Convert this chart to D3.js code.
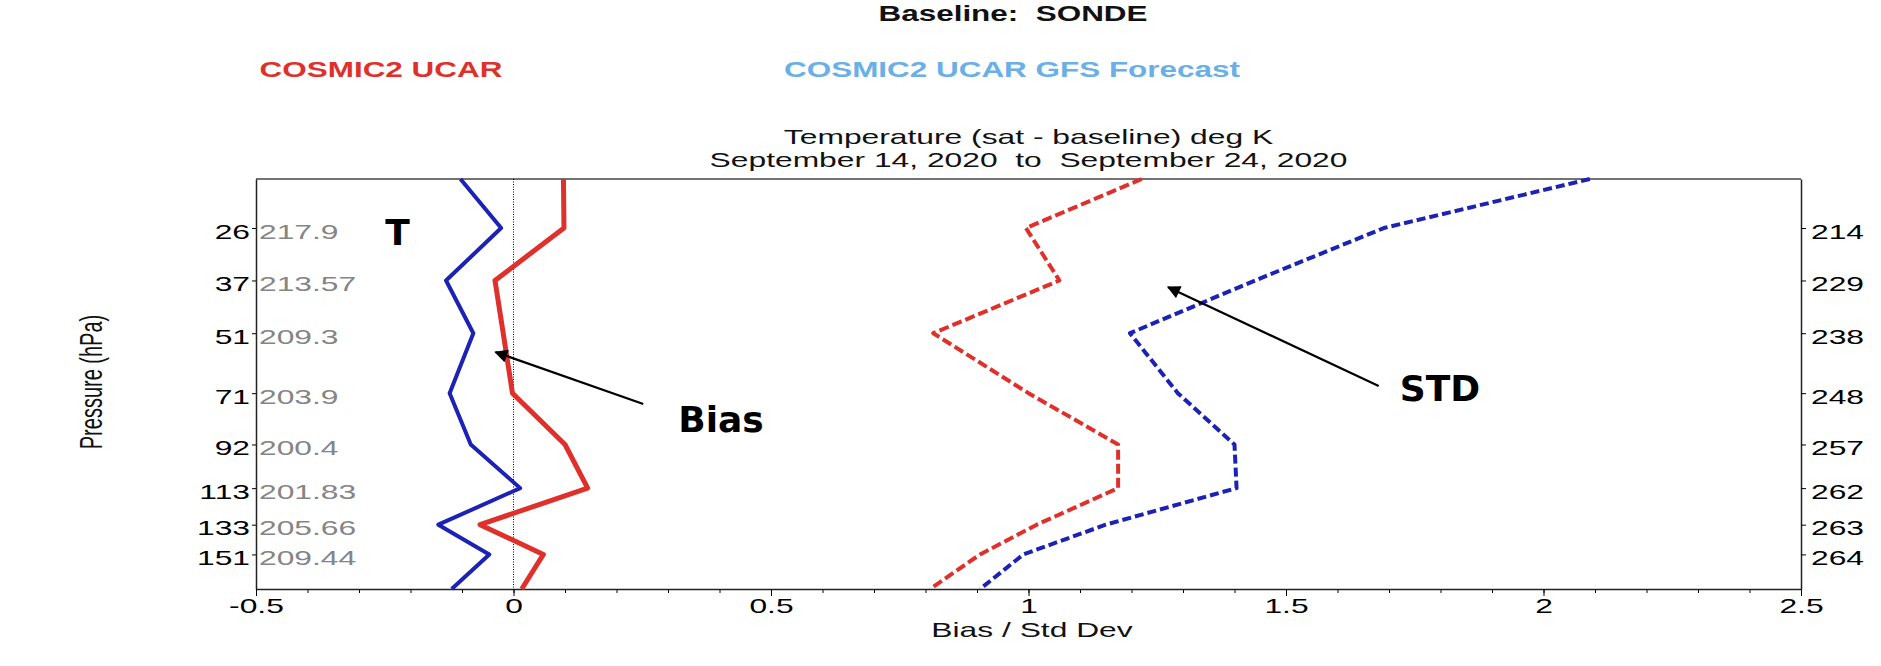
<!DOCTYPE html>
<html>
<head>
<meta charset="utf-8">
<script src="https://cdn.jsdelivr.net/npm/d3@7/dist/d3.min.js"></script>
<style>
    body { margin: 0; background: #fff; }
    text { white-space: pre; }
</style>
</head>
<body>
<div id="profile"></div>
<script>
// pressure levels (hPa); first and last are the edges of the plotted range
var levels = [18, 26, 37, 51, 71, 92, 113, 133, 151, 174];
var ucarBias = [0.097, 0.098, -0.036, -0.02, -0.002, 0.100, 0.144, -0.065, 0.058, 0.016];
var gfsBias = [-0.103, -0.024, -0.131, -0.078, -0.124, -0.083, 0.013, -0.146, -0.047, -0.12];
var ucarStd = [1.22, 0.995, 1.06, 0.815, 1.0, 1.174, 1.174, 1.016, 0.906, 0.809];
var gfsStd = [2.09, 1.69, 1.44, 1.197, 1.29, 1.40, 1.404, 1.15, 0.99, 0.906];

var pressureTicks = [26, 37, 51, 71, 92, 113, 133, 151];
var meanTemps = ["217.9", "213.57", "209.3", "203.9", "200.4", "201.83", "205.66", "209.44"];
var sampleCounts = [214, 229, 238, 248, 257, 262, 263, 264];
var xTicks = [-0.5, 0, 0.5, 1, 1.5, 2, 2.5];

function createProfile() {
    var w = 1881;
    var h = 666;
    var left = 256, right = 1801, top = 179, bottom = 589;
    // the original picture is stretched sideways, so its text is too
    var sx = 1.59;
    var font = "'Liberation Sans', Arial, sans-serif";

    var svg = d3.select("#profile")
        .append("svg")
        .attr("width", w)
        .attr("height", h)
        .style("font-family", font);

    var x = d3.scaleLinear().domain([-0.5, 2.5]).range([left, right]);
    var y = d3.scalePow().exponent(0.3).domain([18, 174]).range([top, bottom]);

    // headers
    function header(txt, cx, by, color) {
        svg.append("text")
            .attr("transform", "translate(" + cx + "," + by + ") scale(1.43,1)")
            .attr("text-anchor", "middle")
            .attr("font-size", 22)
            .attr("font-weight", "bold")
            .attr("fill", color)
            .text(txt);
    }
    header("Baseline:  SONDE", 1013, 21, "#111");
    header("COSMIC2 UCAR", 381, 77, "#e0302c");
    header("COSMIC2 UCAR GFS Forecast", 1012, 77, "#6aafe6");

    function stretched(txt, cx, by, size) {
        return svg.append("text")
            .attr("transform", "translate(" + cx + "," + by + ") scale(" + sx + ",1)")
            .attr("text-anchor", "middle")
            .attr("font-size", size)
            .attr("fill", "#111")
            .text(txt);
    }
    stretched("Temperature (sat - baseline) deg K", (left + right) / 2, 144, 20);
    stretched("September 14, 2020  to  September 24, 2020", (left + right) / 2, 167, 20);
    stretched("Bias / Std Dev", 1032, 637, 20);

    svg.append("text")
        .attr("transform", "translate(91,382) scale(" + sx + ",1) rotate(-90)")
        .attr("text-anchor", "middle")
        .attr("dy", "0.35em")
        .attr("font-size", 20)
        .attr("fill", "#111")
        .text("Pressure (hPa)");

    // frame top
    svg.append("line")
        .attr("x1", left).attr("x2", right)
        .attr("y1", top).attr("y2", top)
        .attr("stroke", "#444").attr("stroke-width", 1.3);

    // zero line
    svg.append("line")
        .attr("x1", x(0)).attr("x2", x(0))
        .attr("y1", top).attr("y2", bottom)
        .attr("stroke", "#000").attr("stroke-width", 1)
        .attr("stroke-dasharray", "1,1.5");

    // minor x ticks
    svg.append("g")
        .attr("transform", "translate(0," + bottom + ")")
        .call(d3.axisBottom(x).tickValues(d3.range(-5, 26).map(function(d) { return d / 10; }))
            .tickSize(4).tickFormat(""))
        .call(function(g) { g.select(".domain").remove(); });

    var xAxis = svg.append("g")
        .attr("transform", "translate(0," + bottom + ")")
        .call(d3.axisBottom(x).tickValues(xTicks).tickSize(7).tickSizeOuter(0)
            .tickFormat(function(d) { return String(d); }));
    xAxis.selectAll("text")
        .attr("transform", "scale(" + sx + ",1)")
        .attr("font-size", 20);

    var yAxis = svg.append("g")
        .attr("transform", "translate(" + left + ",0)")
        .call(d3.axisLeft(y).tickValues(pressureTicks).tickSize(4).tickSizeOuter(0)
            .tickFormat(d3.format("d")));
    yAxis.selectAll("text")
        .attr("x", -6 / sx)
        .attr("dy", "0.5em")
        .attr("transform", "scale(" + sx + ",1)")
        .attr("font-size", 20);

    var tempAxis = svg.append("g")
        .attr("transform", "translate(" + left + ",0)")
        .call(d3.axisRight(y).tickValues(pressureTicks).tickSize(0)
            .tickFormat(function(d, i) { return meanTemps[i]; }));
    tempAxis.select(".domain").remove();
    tempAxis.selectAll("text")
        .attr("x", 3 / sx)
        .attr("dy", "0.5em")
        .attr("transform", "scale(" + sx + ",1)")
        .attr("font-size", 20)
        .attr("fill", "#858585");

    var countAxis = svg.append("g")
        .attr("transform", "translate(" + right + ",0)")
        .call(d3.axisRight(y).tickValues(pressureTicks).tickSize(5).tickSizeOuter(0)
            .tickFormat(function(d, i) { return sampleCounts[i]; }));
    countAxis.selectAll("text")
        .attr("x", 10 / sx)
        .attr("dy", "0.5em")
        .attr("transform", "scale(" + sx + ",1)")
        .attr("font-size", 20);

    svg.selectAll(".domain").attr("stroke", "#222").attr("stroke-width", 1.5);

    // profiles
    function profile(values, color, width, dash) {
        var line = d3.line()
            .x(function(d) { return x(d); })
            .y(function(d, i) { return y(levels[i]); });
        svg.append("path")
            .datum(values)
            .attr("d", line)
            .attr("fill", "none")
            .attr("stroke", color)
            .attr("stroke-width", width)
            .attr("stroke-dasharray", dash)
            .attr("stroke-linejoin", "round");
    }
    profile(ucarStd, "#e0302c", 4, "10,4");
    profile(gfsStd, "#1c22b4", 4, "9,4");
    profile(gfsBias, "#1c22b4", 4, null);
    profile(ucarBias, "#e0302c", 5, null);

    // annotations
    svg.append("defs").append("marker")
        .attr("id", "head")
        .attr("viewBox", "0 0 10 10")
        .attr("refX", 9).attr("refY", 5)
        .attr("markerWidth", 7).attr("markerHeight", 6)
        .attr("markerUnits", "strokeWidth")
        .attr("orient", "auto")
        .append("path")
        .attr("d", "M0,0 L10,5 L0,10 z")
        .attr("fill", "#000");

    function arrow(x1, p1, x2, p2) {
        svg.append("line")
            .attr("x1", x(x1)).attr("y1", y(p1))
            .attr("x2", x(x2)).attr("y2", y(p2))
            .attr("stroke", "#000")
            .attr("stroke-width", 2.2)
            .attr("marker-end", "url(#head)");
    }
    arrow(0.252, 75.1, -0.035, 56.8);
    arrow(1.680, 68.4, 1.271, 38.6);

    function note(txt, xv, pv) {
        svg.append("text")
            .attr("x", x(xv)).attr("y", y(pv))
            .attr("font-family", "'DejaVu Sans', sans-serif")
            .attr("font-weight", "bold")
            .attr("font-size", 36)
            .attr("fill", "#000")
            .text(txt);
    }
    note("Bias", 0.32, 86.6);
    note("STD", 1.721, 74);
    note("T", -0.249, 29.3);
}

createProfile();
</script>
</body>
</html>
